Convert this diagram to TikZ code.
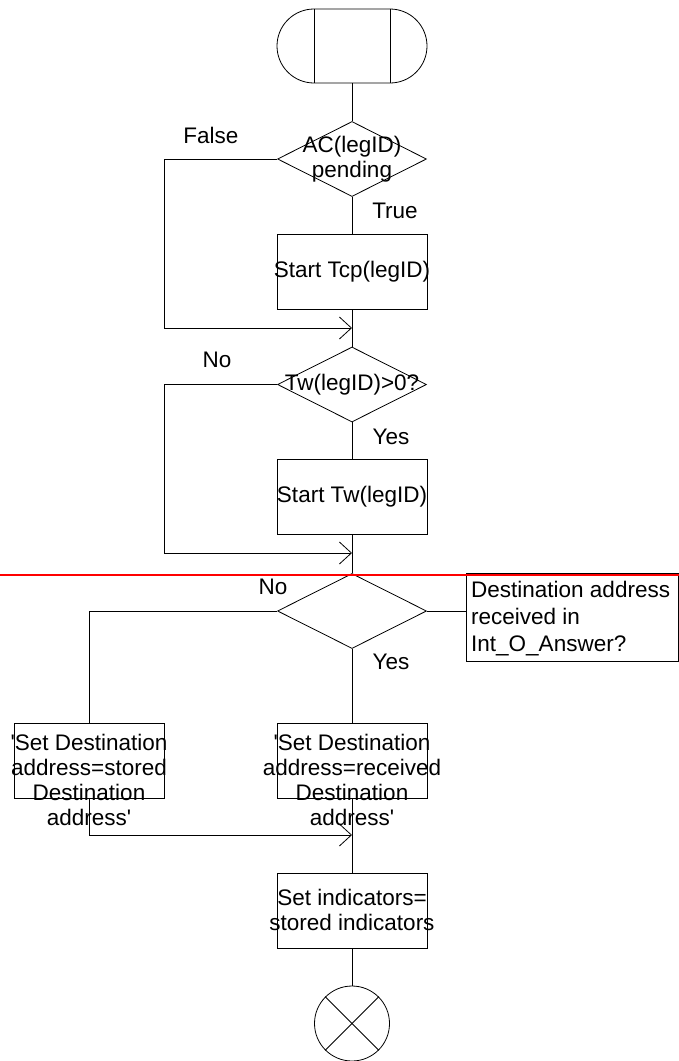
\documentclass[tikz,border=0pt]{standalone}
\usepackage{fontspec}
\setmainfont{Liberation Sans}
\usetikzlibrary{shapes.geometric,shapes.misc,arrows.meta}
\begin{document}
\begin{tikzpicture}[x=1pt,y=-1pt,
  line/.style={draw=black,line width=0.8pt},
  terminal/.style={line,rounded rectangle,minimum width=150pt,minimum height=74pt,inner sep=0pt},
  decision/.style={line,diamond,minimum width=149pt,minimum height=75pt,inner sep=0pt},
  procbox/.style={line,rectangle,minimum width=150pt,minimum height=75pt,inner sep=0pt},
  commentbox/.style={line,rectangle,minimum width=212.5pt,minimum height=88pt,inner sep=0pt},
  endcircle/.style={line,circle,minimum size=75pt,inner sep=0pt},
  txt/.style={inner sep=0pt,align=center,font=\fontsize{22.5}{25}\selectfont},
  lbl/.style={inner sep=0pt,font=\fontsize{22.5}{25}\selectfont},
  arr/.style={line,-{Straight Barb[length=12pt,width=22pt,line width=0.8pt]}}
]
\useasboundingbox (0,0) rectangle (679,1061);

% shapes
\node[terminal] (start) at (352,46) {};
\draw[line] ([xshift=-38pt]start.north) -- ([xshift=-38pt]start.south);
\draw[line] ([xshift=38pt]start.north) -- ([xshift=38pt]start.south);

\node[decision] (d1) at (352,159) {};
\node[txt] (d1t) at (352,159) {AC(legID)\\pending};
\node[procbox] (b1) at (352,271.5) {};
\node[txt] (b1t) at (352,272) {Start Tcp(legID)};
\coordinate (m1) at (352,328);
\coordinate (l1) at (164,328);

\node[decision] (d2) at (352,384.5) {};
\node[txt] (d2t) at (352,385) {Tw(legID)>0?};
\node[procbox] (b2) at (352,497) {};
\node[txt] (b2t) at (352,497) {Start Tw(legID)};
\coordinate (m2) at (352,553);
\coordinate (l2) at (164,553);

\node[decision] (d3) at (352,611) {};
\node[commentbox] (c) at (572.25,617) {};
\node[inner sep=0pt,align=left,anchor=west,font=\fontsize{22.5}{27}\selectfont] (ct) at (471,619)
  {Destination address\\received in\\Int\_O\_Answer?};

\node[procbox] (b3) at (89,760.5) {};
\node[txt] (b3t) at (89,779.5) {\textquotesingle Set Destination\\address=stored\\Destination\\address\textquotesingle};
\node[procbox] (b4) at (352,760.5) {};
\node[txt] (b4t) at (352,779.5) {\textquotesingle Set Destination\\address=received\\Destination\\address\textquotesingle};
\coordinate (m3) at (352,835);

\node[procbox] (b5) at (352,910.5) {};
\node[txt] (b5t) at (352,909.5) {Set indicators=\\stored indicators};

\node[endcircle] (end) at (352,1023.5) {};
\draw[line] (end.north west) -- (end.south east);
\draw[line] (end.north east) -- (end.south west);

% labels
\node[lbl] (lf) at (211,135) {False};
\node[lbl] (lt) at (395,211) {True};
\node[lbl] (ln1) at (217,360) {No};
\node[lbl] (ly1) at (391,437) {Yes};
\node[lbl] (ln2) at (273,587) {No};
\node[lbl] (ly2) at (391,662) {Yes};

% connectors
\draw[line] (start) -- (d1);
\draw[line] (d1) -- (b1);
\draw[line] (b1) -- (d2);
\draw[arr] (d1.west) -| (l1) -- (m1);
\draw[line] (d2) -- (b2);
\draw[line] (b2) -- (d3);
\draw[arr] (d2.west) -| (l2) -- (m2);
\draw[line] (d3.east) -- (d3.east -| c.west);
\draw[line] (d3.west) -| (b3.north);
\draw[line] (d3) -- (b4);
\draw[arr] (b3.south) |- (m3);
\draw[line] (b4) -- (b5);
\draw[line] (b5) -- (end);

% red line
\coordinate (r0) at (0,575);
\coordinate (r1) at (679,575);
\draw[red,line width=1.5pt] (r0) -- (r1);
\end{tikzpicture}
\end{document}
